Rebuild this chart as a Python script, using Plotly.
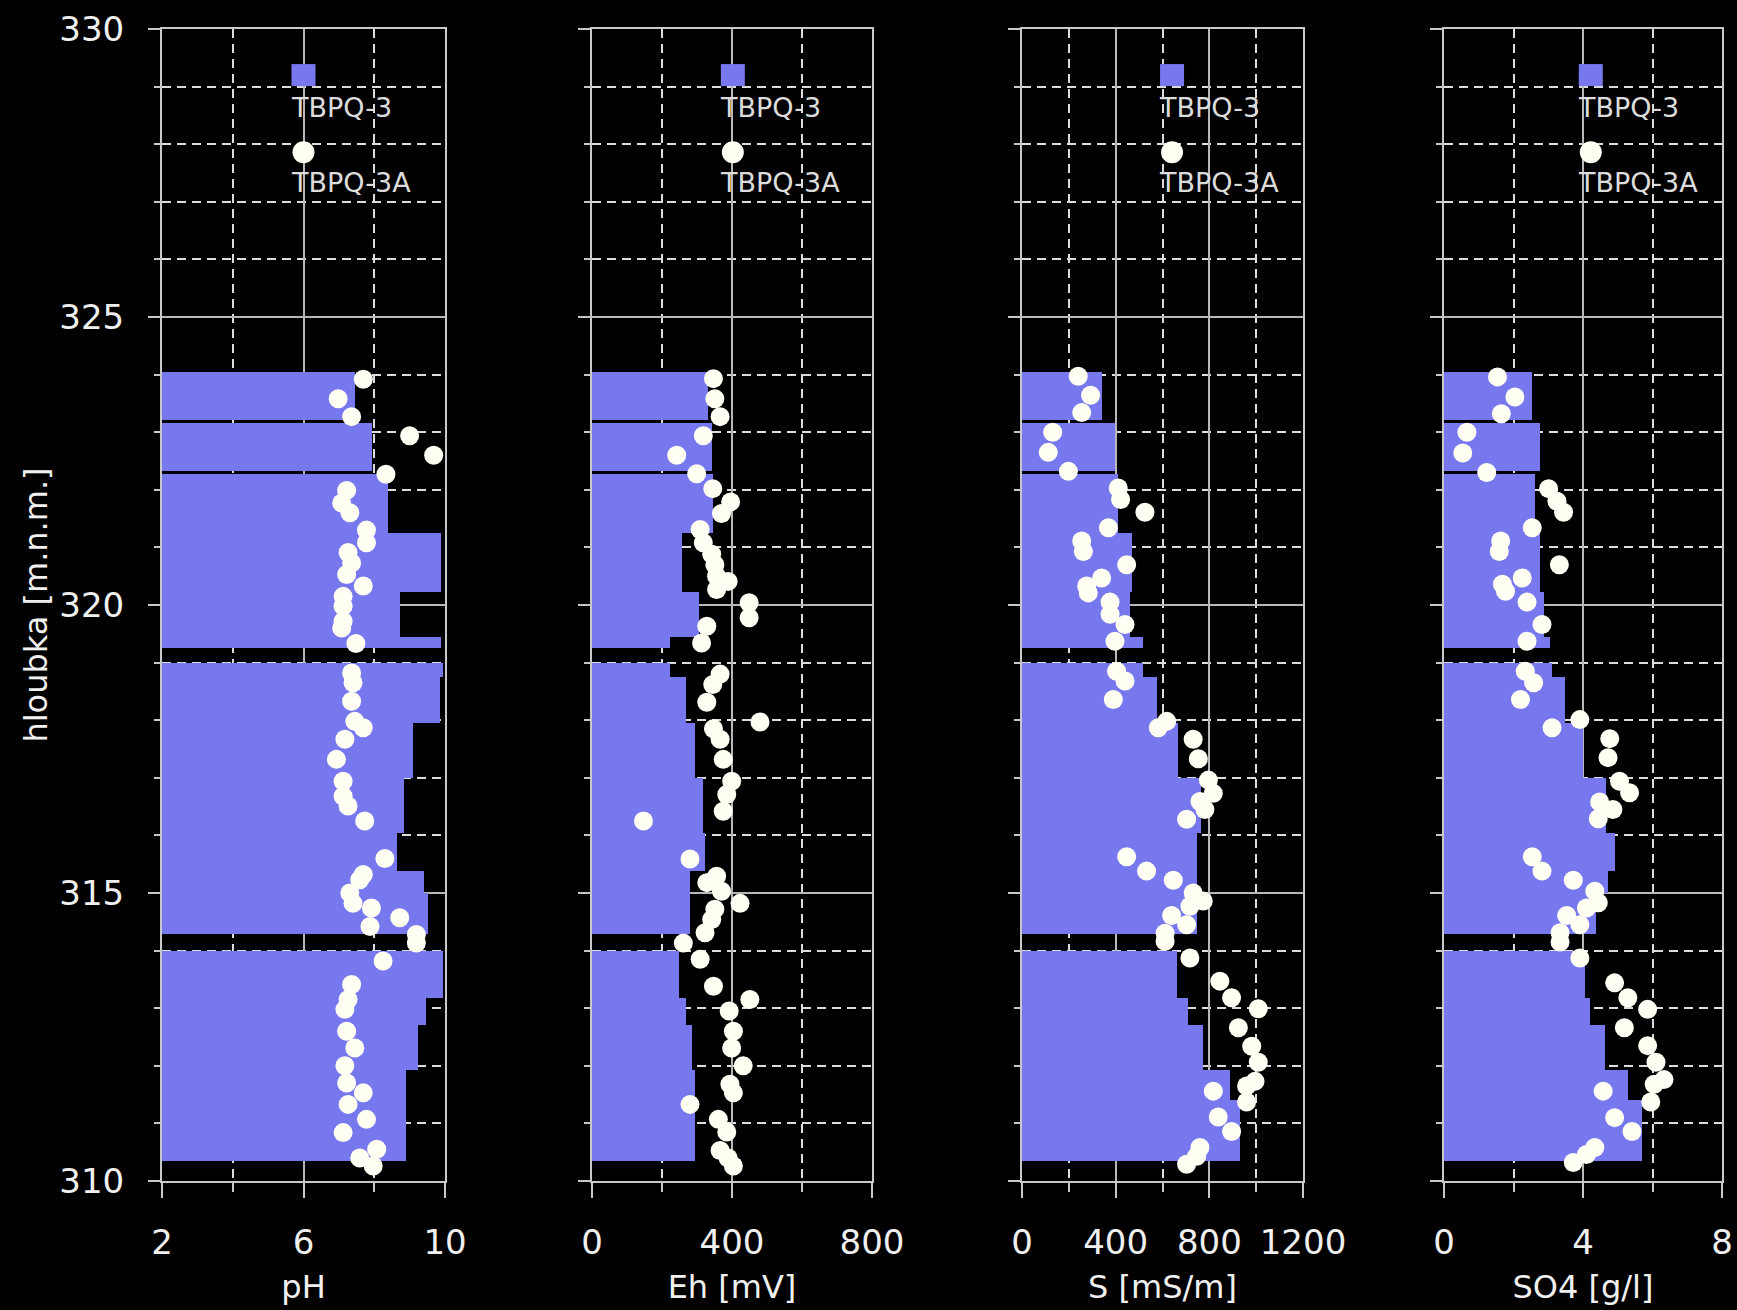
import plotly.graph_objects as go

# ---------------- data ----------------
# depth intervals of TBPQ-3 bars (m a.s.l.)
bar_top = [324.04, 323.16, 322.27, 321.25, 320.22, 319.45, 319.00, 318.75, 317.95,
           317.00, 316.05, 315.38, 315.00, 314.00, 313.18, 312.70, 311.92, 311.40]
bar_bot = [323.22, 322.32, 321.25, 320.22, 319.45, 319.26, 318.75, 317.95, 317.00,
           316.05, 315.38, 315.00, 314.28, 313.18, 312.70, 311.92, 311.40, 310.34]

ph_bar = [7.45, 7.93, 8.38, 9.90, 8.72, 9.90, 9.95, 9.85, 9.09,
          8.84, 8.63, 9.40, 9.53, 9.93, 9.46, 9.24, 8.91, 8.91]
eh_bar = [332, 342, 347, 256, 307, 223, 223, 269, 294,
          316, 323, 280, 280, 249, 269, 285, 294, 294]
s_bar = [340, 397, 410, 468, 461, 518, 518, 575, 667,
         765, 746, 746, 746, 660, 710, 774, 888, 931]
so4_bar = [2.53, 2.77, 2.63, 2.77, 2.87, 3.06, 3.10, 3.48, 4.00,
           4.67, 4.91, 4.72, 4.38, 4.05, 4.20, 4.62, 5.29, 5.71]

# TBPQ-3A point measurements
ph_depth = [323.92, 323.58, 323.27, 322.94, 322.60, 322.27, 321.99, 321.77, 321.60, 321.30,
            321.08, 320.91, 320.73, 320.53, 320.33, 320.15, 319.98, 319.72, 319.60, 319.33,
            318.82, 318.65, 318.33, 317.98, 317.87, 317.67, 317.32, 316.94, 316.68, 316.51,
            316.25, 315.60, 315.32, 315.23, 315.00, 314.82, 314.74, 314.57, 314.42, 314.28,
            314.13, 313.82, 313.41, 313.15, 312.98, 312.60, 312.31, 312.00, 311.70, 311.53,
            311.33, 311.07, 310.84, 310.55, 310.40, 310.26]
ph_val = [7.69, 6.98, 7.36, 9.00, 9.68, 8.33, 7.22, 7.08, 7.31, 7.78,
          7.78, 7.26, 7.36, 7.22, 7.69, 7.12, 7.12, 7.12, 7.08, 7.48,
          7.36, 7.40, 7.36, 7.45, 7.69, 7.17, 6.93, 7.12, 7.12, 7.26,
          7.73, 8.30, 7.69, 7.59, 7.31, 7.40, 7.92, 8.72, 7.88, 9.19,
          9.19, 8.25, 7.36, 7.26, 7.17, 7.22, 7.45, 7.17, 7.22, 7.69,
          7.26, 7.78, 7.12, 8.07, 7.59, 7.97]

eh_depth = [323.93, 323.58, 323.27, 322.94, 322.60, 322.28, 322.02, 321.79, 321.59, 321.31,
            321.08, 320.88, 320.70, 320.50, 320.41, 320.27, 320.04, 319.78, 319.63, 319.34,
            318.80, 318.62, 318.31, 317.97, 317.85, 317.67, 317.32, 316.94, 316.71, 316.42,
            316.25, 315.59, 315.29, 315.18, 315.03, 314.82, 314.72, 314.54, 314.31, 314.13,
            313.85, 313.38, 313.15, 312.95, 312.60, 312.31, 312.00, 311.68, 311.53, 311.33,
            311.07, 310.85, 310.53, 310.40, 310.26]
eh_val = [347, 351, 366, 318, 242, 299, 345, 396, 370, 309,
          318, 342, 351, 356, 389, 356, 449, 449, 328, 313,
          366, 345, 328, 480, 347, 366, 375, 399, 385, 375,
          147, 280, 356, 328, 370, 423, 351, 342, 323, 261,
          309, 347, 451, 392, 404, 399, 432, 394, 404, 280,
          361, 385, 366, 389, 404]

s_depth = [323.97, 323.64, 323.34, 323.00, 322.65, 322.32, 322.03, 321.83, 321.61, 321.34,
           321.11, 320.93, 320.70, 320.47, 320.33, 320.21, 320.05, 319.84, 319.66, 319.37,
           318.85, 318.68, 318.36, 317.98, 317.87, 317.67, 317.33, 316.96, 316.73, 316.59,
           316.45, 316.28, 315.63, 315.38, 315.22, 315.00, 314.86, 314.77, 314.61, 314.45,
           314.30, 314.16, 313.87, 313.47, 313.18, 312.99, 312.66, 312.34, 312.06, 311.73,
           311.65, 311.56, 311.37, 311.11, 310.86, 310.58, 310.43, 310.29]
s_val = [240, 293, 255, 131, 112, 198, 411, 421, 525, 369,
         255, 262, 447, 340, 276, 283, 376, 376, 440, 397,
         404, 440, 390, 618, 582, 731, 753, 796, 817, 760,
         781, 703, 447, 532, 646, 731, 774, 717, 639, 703,
         611, 611, 717, 845, 895, 1009, 924, 981, 1009, 995,
         959, 817, 959, 838, 895, 760, 746, 703]

so4_depth = [323.96, 323.61, 323.32, 323.00, 322.64, 322.30, 322.02, 321.80, 321.61, 321.34,
             321.11, 320.93, 320.70, 320.47, 320.36, 320.24, 320.05, 319.66, 319.37, 318.85,
             318.65, 318.36, 318.01, 317.87, 317.68, 317.35, 316.94, 316.74, 316.58, 316.45,
             316.29, 315.63, 315.38, 315.22, 315.03, 314.83, 314.74, 314.61, 314.45, 314.31,
             314.15, 313.87, 313.44, 313.18, 312.98, 312.66, 312.35, 312.06, 311.76, 311.68,
             311.56, 311.37, 311.10, 310.86, 310.58, 310.46, 310.32]
so4_val = [1.54, 2.04, 1.65, 0.66, 0.54, 1.23, 3.01, 3.25, 3.44, 2.54,
           1.63, 1.59, 3.32, 2.25, 1.68, 1.77, 2.39, 2.82, 2.39, 2.34,
           2.58, 2.20, 3.91, 3.11, 4.77, 4.72, 5.05, 5.34, 4.48, 4.86,
           4.44, 2.54, 2.82, 3.72, 4.34, 4.44, 4.10, 3.53, 3.91, 3.34,
           3.34, 3.91, 4.91, 5.29, 5.86, 5.19, 5.86, 6.10, 6.33, 6.05,
           4.58, 5.95, 4.91, 5.41, 4.34, 4.10, 3.72]

x_titles = ["pH", "Eh [mV]", "S [mS/m]", "SO4 [g/l]"]
x_ranges = [[2, 10], [0, 800], [0, 1200], [0, 8]]
x_dticks = [4, 400, 400, 4]
x_minor = [2, 200, 200, 2]
y_range = [310, 330]
y_title = "hloubka [m.n.m.]"
series_names = ["TBPQ-3", "TBPQ-3A"]

# ---------------- styling ----------------
FONT = "DejaVu Sans"
BAR_C = "#7777EE"
DOT_C = "#FFFFF4"
AX_C = "#c8c8c8"
TXT_C = "#f0f0f0"

W, H = 1737, 1310
ML, MR, MT, MB = 162, 9, 29, 129
plot_w = W - ML - MR
px_dom = [(162, 445), (592, 872), (1022, 1303), (1444, 1722)]
domains = [[(a - ML) / plot_w, (b - ML) / plot_w] for a, b in px_dom]
legend_frac = [0.50, 0.503, 0.534, 0.528]

bar_vals = [ph_bar, eh_bar, s_bar, so4_bar]
dot_depths = [ph_depth, eh_depth, s_depth, so4_depth]
dot_vals = [ph_val, eh_val, s_val, so4_val]

fig = go.Figure()
bar_mid = [(t + b) / 2 for t, b in zip(bar_top, bar_bot)]
bar_w = [t - b for t, b in zip(bar_top, bar_bot)]

for i in range(4):
    xa = "x" if i == 0 else f"x{i+1}"
    ya = "y" if i == 0 else f"y{i+1}"
    fig.add_trace(go.Bar(x=bar_vals[i], y=bar_mid, width=bar_w, orientation="h",
                         marker=dict(color=BAR_C, line=dict(width=0)),
                         name=series_names[0], xaxis=xa, yaxis=ya, showlegend=False))
    fig.add_trace(go.Scatter(x=dot_vals[i], y=dot_depths[i], mode="markers",
                             marker=dict(color=DOT_C, size=19, line=dict(width=0)),
                             name=series_names[1], xaxis=xa, yaxis=ya, showlegend=False))

layout = dict(width=W, height=H, paper_bgcolor="black", plot_bgcolor="black",
              margin=dict(l=ML, r=MR, t=MT, b=MB, pad=0, autoexpand=False),
              font=dict(family=FONT, color=TXT_C), showlegend=False, bargap=0)

shapes, annots = [], []
for i in range(4):
    sfx = "" if i == 0 else str(i + 1)
    lo, hi = x_ranges[i]
    layout["xaxis" + sfx] = dict(
        domain=domains[i], range=x_ranges[i], anchor="y" + sfx, automargin=False,
        tick0=lo, dtick=x_dticks[i], ticklabeloverflow="allow",
        showline=True, linecolor=AX_C, linewidth=2, mirror=True,
        showgrid=True, gridcolor="#b8b8b8", gridwidth=1.5, zeroline=False,
        ticks="outside", ticklen=15, tickwidth=2, tickcolor=AX_C,
        ticklabelstandoff=15,
        tickfont=dict(size=34, color=TXT_C),
        minor=dict(dtick=x_minor[i], showgrid=True, gridcolor="#dcdcdc", gridwidth=1.5,
                   griddash="9px,6px", ticks="outside", ticklen=9, tickwidth=2,
                   tickcolor=AX_C),
        title=dict(text=x_titles[i], font=dict(size=32, color=TXT_C), standoff=15),
    )
    layout["yaxis" + sfx] = dict(
        domain=[0, 1], range=y_range, anchor="x" + sfx, automargin=False,
        tick0=310, dtick=5,
        showline=True, linecolor=AX_C, linewidth=2, mirror=True,
        showgrid=True, gridcolor="#b8b8b8", gridwidth=1.5, zeroline=False,
        ticks="outside", ticklen=12, tickwidth=2, tickcolor=AX_C,
        showticklabels=(i == 0), ticklabelstandoff=17,
        tickfont=dict(size=34, color=TXT_C),
        minor=dict(dtick=1, showgrid=True, gridcolor="#dcdcdc", gridwidth=1.5,
                   griddash="9px,6px", ticks="outside", ticklen=6, tickwidth=2,
                   tickcolor=AX_C),
    )
    if i == 0:
        layout["yaxis"]["title"] = dict(text=y_title, font=dict(size=32, color=TXT_C),
                                        standoff=2)

    # in-plot legend for each panel
    lx = lo + legend_frac[i] * (hi - lo)
    xr = "x" + sfx
    yr = "y" + sfx
    shapes.append(dict(type="rect", xref=xr, yref=yr, xsizemode="pixel", ysizemode="pixel",
                       xanchor=lx, yanchor=329.2, x0=-12, x1=12, y0=-11, y1=11,
                       fillcolor=BAR_C, line=dict(width=0), layer="above"))
    shapes.append(dict(type="circle", xref=xr, yref=yr, xsizemode="pixel", ysizemode="pixel",
                       xanchor=lx, yanchor=327.86, x0=-11, x1=11, y0=-11, y1=11,
                       fillcolor=DOT_C, line=dict(width=0), layer="above"))
    annots.append(dict(xref=xr, yref=yr, x=lx, y=328.64, xanchor="left", yanchor="middle",
                       xshift=-15, text=series_names[0], showarrow=False,
                       font=dict(size=27, color="#dcdcdc", family=FONT)))
    annots.append(dict(xref=xr, yref=yr, x=lx, y=327.34, xanchor="left", yanchor="middle",
                       xshift=-15, text=series_names[1], showarrow=False,
                       font=dict(size=27, color="#dcdcdc", family=FONT)))

layout["shapes"] = shapes
layout["annotations"] = annots
fig.update_layout(**layout)
fig.write_html("out.html")
